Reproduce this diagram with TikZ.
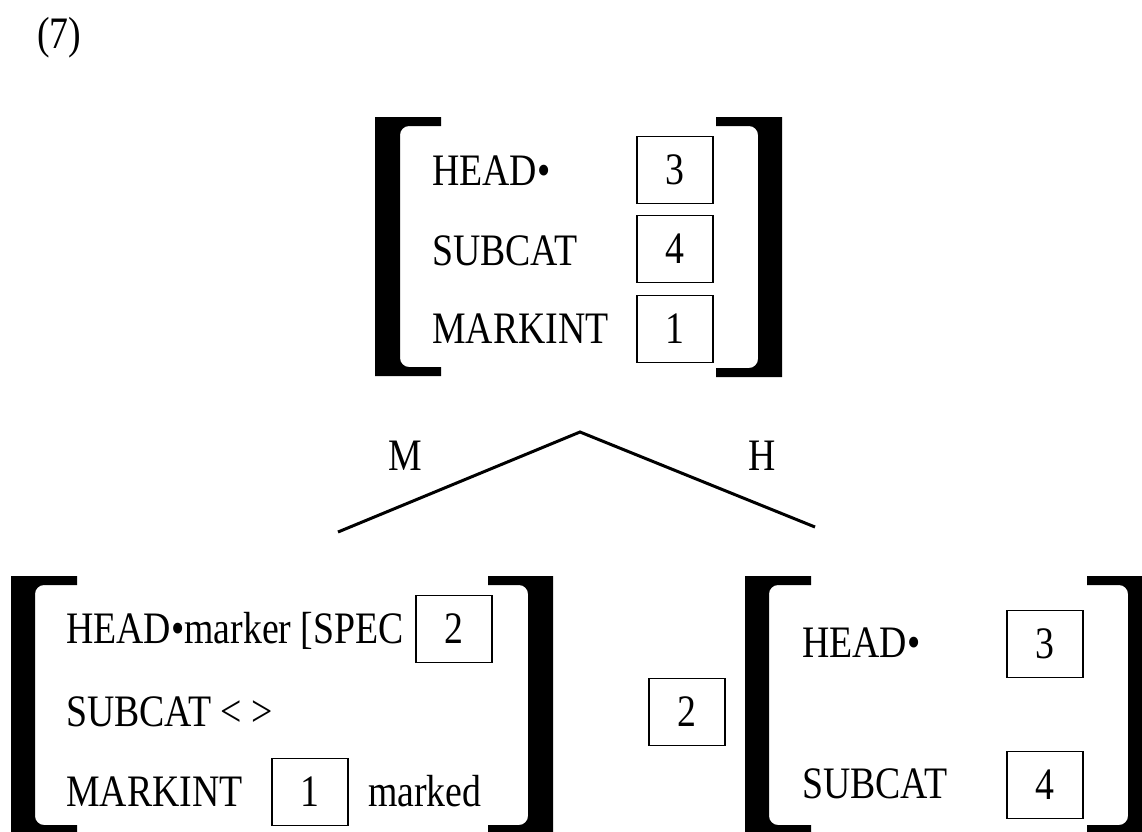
\documentclass[tikz,border=0pt]{standalone}
\usepackage{fontspec}
\setmainfont{Liberation Serif}[FakeStretch=0.84]
\usetikzlibrary{positioning}

% square bracket: outer x, inner x, serif end x, top y, bottom y
\newcommand{\avmbrack}[5]{%
	\begin{scope}
		\clip (#1,#4) rectangle (#3,#5);
		\fill[black,even odd rule] (#1,#4) rectangle ({3*#3-2*#2},#5)
			[rounded corners=9pt] (#2,{#4+9}) rectangle ({2*#3-#2},{#5-9});
	\end{scope}}

\begin{document}
\begin{tikzpicture}[x=1pt,y=-1pt]
		\tikzstyle{every node}+=[inner sep=0pt,font=\fontsize{45}{54}\selectfont]
		\tikzstyle{feat}=[anchor=base west]
		\tikzstyle{tag}=[draw=black,line width=1.8pt,minimum width=76pt,minimum height=67pt]
		\useasboundingbox (0,0) rectangle (1142,831);
		\node [feat] (num) at (37,48) {(7)};
		% mother
		\avmbrack{375}{400}{441}{117}{376}
		\avmbrack{782}{758}{716}{117}{377}
		\node [feat] (mhead) at (432,185) {HEAD•};
		\node [feat] (msubcat) at (432,265) {SUBCAT};
		\node [feat] (mmark) at (432,343) {MARKINT};
		\node [tag] (mthree) at (675,170) {3};
		\node [tag] (mfour) at (675,249) {4};
		\node [tag] (mone) at (675,329) {1};
		% branches
		\coordinate (apex) at (580,432);
		\coordinate (mend) at (338,532);
		\coordinate (hend) at (815,527);
		\draw [black,line width=3pt] (mend) -- (apex) -- (hend);
		\node [feat] (mlab) at (388,470) {M};
		\node [feat] (hlab) at (748,470) {H};
		% marker daughter
		\avmbrack{11}{35}{77}{576}{834}
		\avmbrack{553}{528}{488}{576}{834}
		\node [feat] (dhead) at (66,643) {HEAD•marker [SPEC};
		\node [feat] (dsubcat) at (66,726) {SUBCAT < >};
		\node [feat] (dmark) at (66,806) {MARKINT};
		\node [feat] (dmarked) at (368,806) {marked};
		\node [tag] (dtwo) at (454,629) {2};
		\node [tag] (done) at (310,792) {1};
		% head daughter
		\node [tag] (htag) at (687,712) {2};
		\avmbrack{745}{769}{811}{576}{834}
		\avmbrack{1152}{1128}{1087}{576}{834}
		\node [feat] (hhead) at (802,657) {HEAD•};
		\node [feat] (hsubcat) at (802,798) {SUBCAT};
		\node [tag] (hthree) at (1045,644) {3};
		\node [tag] (hfour) at (1045,785) {4};
\end{tikzpicture}
\end{document}
